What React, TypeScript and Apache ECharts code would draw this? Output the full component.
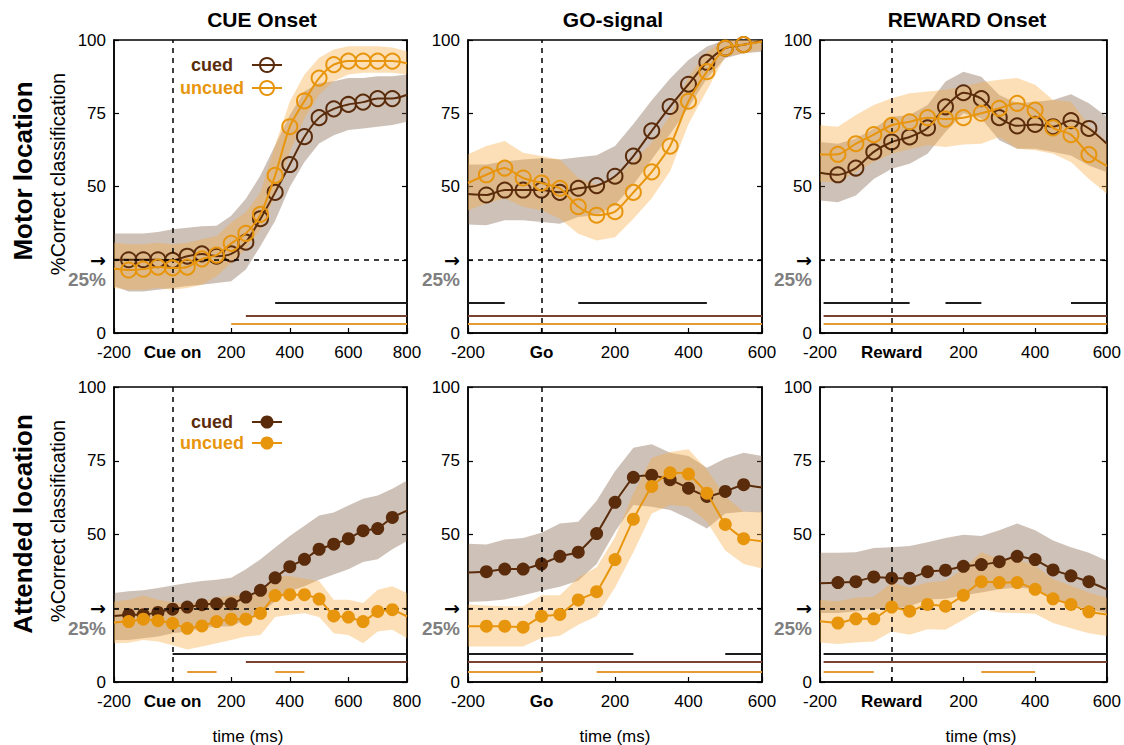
import React, { useEffect, useRef } from "react";
import * as echarts from "echarts";

// ---------- time grids (ms) ----------
const T_CUE = [-200, -150, -100, -50, 0, 50, 100, 150, 200, 250, 300, 350, 400, 450, 500, 550, 600, 650, 700, 750, 800];
const T_GO = [-200, -150, -100, -50, 0, 50, 100, 150, 200, 250, 300, 350, 400, 450, 500, 550, 600];
const T_REW = [-200, -150, -100, -50, 0, 50, 100, 150, 200, 250, 300, 350, 400, 450, 500, 550, 600];

// ---------- Motor location (top row) ----------
const mCueCued = [25, 25, 25, 25, 24.8, 26.2, 27, 26.2, 27, 31, 39, 48, 57.5, 67, 73.5, 76.5, 78, 78.8, 80, 80, 81.3];
const mCueCuedLo = [16, 14.2, 14.2, 14.8, 15.4, 16, 16.5, 17.1, 17.7, 21.7, 29.7, 38.3, 49.8, 58.4, 64.7, 67.5, 69.3, 69.8, 70.4, 71, 72.1];
const mCueCuedHi = [34, 34, 34, 34.5, 35.4, 35.9, 36.4, 36.6, 40, 45.8, 53.8, 64.1, 74.4, 82.5, 85.3, 85.9, 87, 87, 87.6, 87.6, 88.2];
const mCueUnc = [22, 21.5, 21.8, 22.5, 22.2, 22.5, 25.3, 26.6, 30.6, 34, 40.5, 53.8, 70.4, 79.2, 87, 91.6, 92.8, 92.8, 92.8, 92.8, 92];
const mCueUncLo = [15.4, 14.8, 14.8, 15.4, 14.8, 15.4, 16.5, 19.4, 24, 28.6, 35.4, 46.9, 61.8, 73.3, 81.3, 85.9, 88.2, 88.8, 88.8, 88.8, 88.2];
const mCueUncHi = [30.8, 30.3, 30.3, 30.8, 30.3, 30.8, 32, 33.1, 37.7, 41.2, 48, 64.1, 79, 88.2, 93.9, 96.8, 97.9, 97.9, 97.9, 97.4, 96.2];

const mGoCued = [47.4, 47.1, 48.8, 48.8, 48.8, 48, 49.4, 50.3, 53.5, 60.4, 69, 77.3, 84.9, 92.4, 97.2, 98.4, 99.6];
const mGoCuedLo = [37, 36.8, 38.5, 38.5, 37.9, 37.3, 39.6, 40.2, 43.7, 50.6, 59.2, 67.9, 77, 86.9, 93.8, 95.5, 96];
const mGoCuedHi = [57.5, 57.5, 58.6, 59.2, 59.6, 59.2, 60, 60.7, 63.8, 71.3, 79.4, 86.9, 93.2, 97.8, 100, 100, 100];
const mGoUnc = [51.2, 54, 56.3, 52.9, 51.2, 49.4, 43.1, 40.2, 41.4, 48, 55, 63.8, 79.1, 89.2, 97.2, 98.4, 99.5];
const mGoUncLo = [41.9, 44.2, 46, 43.1, 41.9, 39, 33.9, 31.6, 32.7, 39, 46, 55.2, 71.3, 82.8, 94.4, 95.5, 96.7];
const mGoUncHi = [61, 63.8, 65.5, 61.5, 60.4, 59.2, 52.9, 50.6, 52.9, 58.6, 65, 74.2, 87.4, 96, 100, 100, 100];

const mRewCued = [54.7, 54, 56.3, 61.8, 65.2, 66.9, 70, 77.2, 82, 80, 73.5, 70.7, 71.2, 70.4, 72.5, 69.8, 64.6];
const mRewCuedLo = [45.2, 44.6, 46.9, 52.6, 56.1, 57.8, 61.2, 68.6, 75, 73.2, 65.8, 62.9, 62.9, 61.8, 60.6, 57.2, 54.9];
const mRewCuedHi = [65.2, 64.6, 66.4, 69.8, 73.8, 74.4, 77.8, 85.8, 89.2, 87.5, 81.2, 78.4, 78.9, 79.5, 81.5, 78.4, 73.8];
const mRewUnc = [60.9, 61, 64.6, 67.7, 70.9, 72.1, 73.5, 73, 73.5, 75, 76.7, 78.4, 76.1, 70, 67.7, 60.9, 57];
const mRewUncLo = [51.5, 51.5, 54.9, 58.4, 61.2, 62.7, 64.1, 63.5, 64.3, 64.6, 66.9, 62.9, 62.4, 61.2, 58.4, 52.6, 47.5];
const mRewUncHi = [70.9, 70.4, 74.4, 77.8, 80.1, 81.8, 82.4, 83, 84.1, 85.6, 86.4, 87, 84.7, 79.5, 78.9, 70.9, 65.2];

// ---------- Attended location (bottom row) ----------
const aCueCued = [22.4, 22.8, 22.8, 23.6, 24.7, 25.4, 26.2, 26.5, 26.5, 28.8, 31.1, 35.3, 39.1, 41.6, 45, 46.7, 48.6, 51.3, 52, 55.8, 58.1];
const aCueCuedLo = [14.2, 14.2, 14.8, 15.4, 16.5, 17.1, 18.2, 18.8, 18.8, 21.1, 23.3, 27.3, 30.8, 32.5, 34.7, 36.4, 38.2, 40.7, 41.6, 45, 47.8];
const aCueCuedHi = [30.2, 30.8, 31.1, 31.9, 32.7, 33.6, 34.2, 34.7, 35.3, 38.2, 41.6, 45.6, 49.5, 53, 56.4, 57.5, 59.8, 62.1, 63.2, 65.5, 68.3];
const aCueUnc = [20.2, 20.5, 21.3, 20.8, 19.9, 18.2, 19, 20.5, 21.3, 21.3, 23.3, 29.3, 29.6, 29.6, 28.1, 22.4, 22, 20.5, 23.9, 24.5, 22.2];
const aCueUncLo = [13.1, 13.3, 14.2, 13.7, 12.5, 11, 12, 13.1, 14.2, 15.4, 15.9, 22, 22.8, 23.3, 22, 16.5, 15.9, 13.1, 17.1, 17.7, 14.8];
const aCueUncHi = [27.3, 27.9, 29.3, 27.9, 27, 26.5, 27.3, 28.5, 29.3, 29.3, 30.2, 35.9, 35.9, 35, 34.2, 27.9, 27.9, 26.8, 31.3, 32.5, 30.2];

const aGoCued = [37.1, 37.4, 38.3, 38.3, 40, 42.6, 44, 50.3, 60.9, 69.4, 70.1, 68.6, 65.7, 62.9, 64.6, 66.9, 65.9];
const aGoCuedLo = [27.1, 27.4, 28, 29.4, 30.9, 32.3, 34.3, 40, 50.9, 60, 59.4, 58.3, 55.4, 52, 57.1, 57.7, 57.5];
const aGoCuedHi = [46.9, 46.6, 48.3, 48.8, 50.6, 53.7, 54.3, 61.4, 71.4, 79.4, 80.6, 77.7, 76.6, 72.6, 75.8, 77.7, 76.6];
const aGoUnc = [18.9, 18.9, 18.9, 18.6, 22.3, 22.9, 27.8, 30.6, 41.5, 55.2, 66.3, 70.9, 70.5, 64, 53.4, 48.6, 47.7];
const aGoUncLo = [12, 12, 12, 12, 14.9, 15.7, 19.4, 22.3, 32, 44, 57.1, 60, 59.4, 54.3, 44.6, 40, 38.5];
const aGoUncHi = [26.3, 25.9, 25.7, 25.7, 29.4, 29.4, 35.4, 38.9, 49.1, 64, 76, 78, 78.9, 72, 62.9, 57.7, 57.7];

const aRewCued = [33.5, 33.7, 34, 35.6, 35.2, 35.2, 37.4, 37.9, 39.2, 39.8, 40.8, 42.6, 41.5, 38, 36, 34, 31.4];
const aRewCuedLo = [23.4, 23.4, 24, 24.8, 24.6, 25.7, 28, 28.2, 29.4, 30.3, 31.4, 32, 31.4, 28, 26.3, 24.6, 23.4];
const aRewCuedHi = [43.8, 43.8, 44, 45.4, 45.7, 46.1, 47.4, 48.8, 49.9, 49.5, 51.4, 53.7, 51.4, 48, 45.7, 43.8, 41.1];
const aRewUnc = [20.6, 20, 21.4, 21.4, 25.4, 24, 26.3, 25.7, 29.4, 34, 33.7, 33.7, 31.4, 28.2, 26.3, 23.8, 22.9];
const aRewUncLo = [13.4, 12.9, 13.4, 13.7, 17.1, 16, 17.9, 17.7, 21.1, 24.7, 23.6, 23.4, 23.1, 20, 18.2, 16.5, 15.6];
const aRewUncHi = [27.8, 27.4, 28.6, 28.9, 33.7, 32, 33.7, 34.3, 38.3, 44, 41.7, 41.7, 39.4, 34.9, 32.6, 30.3, 28.6];

// ---------- significance bars: [start, end] in ms ----------
const sigMCueAll = [[350, 800]];
const sigMCueCued = [[250, 800]];
const sigMCueUnc = [[200, 800]];
const sigMGoAll = [[-200, -100], [100, 450]];
const sigMGoCued = [[-200, 600]];
const sigMGoUnc = [[-200, 600]];
const sigMRewAll = [[-190, 50], [150, 250], [500, 600]];
const sigMRewCued = [[-190, 600]];
const sigMRewUnc = [[-190, 600]];
const sigACueAll = [[0, 800]];
const sigACueCued = [[250, 800]];
const sigACueUnc = [[50, 150], [350, 450]];
const sigAGoAll = [[-200, 250], [500, 600]];
const sigAGoCued = [[-200, 600]];
const sigAGoUnc = [[-200, 0], [150, 600]];
const sigARewAll = [[-190, 600]];
const sigARewCued = [[-190, 600]];
const sigARewUnc = [[-190, -50], [250, 400]];
const SIG_LEVELS = [[10.4, 6, 3.3], [9.7, 6.7, 3.6]];

// ---------- labels ----------
const COLUMN_TITLES = ["CUE Onset", "GO-signal", "REWARD Onset"];
const EVENT_LABELS = ["Cue on", "Go", "Reward"];
const ROW_TITLES = ["Motor location", "Attended location"];
const Y_NAME = "%Correct classification";
const X_NAME = "time (ms)";
const LEGEND_NAMES = ["cued", "uncued"];
const X_MIN = -200;
const X_MAX = [800, 600, 600];
const CHANCE = 25;

// ---------- styling ----------
const FONT = "'Liberation Sans', Arial, Helvetica, sans-serif";
const DARK = "#5a2c0b";
const ORANGE = "#e8950e";
const BAND_DARK = "rgba(120, 82, 58, 0.36)";
const BAND_ORANGE = "rgba(248, 172, 66, 0.38)";
const SIG_COLORS = ["#1c1c1c", "#7a4232", "#e69a33"];
const GRID_LEFT = [114, 468, 820];
const GRID_W = [293, 294, 293];
const GRID_TOP = [40, 387];
const GRID_H = [293, 295];

const panels = [
  { row: 0, col: 0, t: T_CUE, c: mCueCued, cLo: mCueCuedLo, cHi: mCueCuedHi, u: mCueUnc, uLo: mCueUncLo, uHi: mCueUncHi, sig: [sigMCueAll, sigMCueCued, sigMCueUnc] },
  { row: 0, col: 1, t: T_GO, c: mGoCued, cLo: mGoCuedLo, cHi: mGoCuedHi, u: mGoUnc, uLo: mGoUncLo, uHi: mGoUncHi, sig: [sigMGoAll, sigMGoCued, sigMGoUnc] },
  { row: 0, col: 2, t: T_REW, c: mRewCued, cLo: mRewCuedLo, cHi: mRewCuedHi, u: mRewUnc, uLo: mRewUncLo, uHi: mRewUncHi, sig: [sigMRewAll, sigMRewCued, sigMRewUnc] },
  { row: 1, col: 0, t: T_CUE, c: aCueCued, cLo: aCueCuedLo, cHi: aCueCuedHi, u: aCueUnc, uLo: aCueUncLo, uHi: aCueUncHi, sig: [sigACueAll, sigACueCued, sigACueUnc] },
  { row: 1, col: 1, t: T_GO, c: aGoCued, cLo: aGoCuedLo, cHi: aGoCuedHi, u: aGoUnc, uLo: aGoUncLo, uHi: aGoUncHi, sig: [sigAGoAll, sigAGoCued, sigAGoUnc] },
  { row: 1, col: 2, t: T_REW, c: aRewCued, cLo: aRewCuedLo, cHi: aRewCuedHi, u: aRewUnc, uLo: aRewUncLo, uHi: aRewUncHi, sig: [sigARewAll, sigARewCued, sigARewUnc] },
];

function bandSeries(i: number, yIdx: number, t: number[], lo: number[], hi: number[], color: string, z: number) {
  return {
    type: "custom", xAxisIndex: i, yAxisIndex: yIdx, silent: true, z,
    encode: { x: 0, y: [1, 2] },
    data: t.map((x, k) => [x, lo[k], hi[k]]),
    renderItem: (params: any, api: any) => {
      if (params.dataIndex !== 0) return null;
      const upper = t.map((x, k) => api.coord([x, hi[k]]));
      const lower = t.map((x, k) => api.coord([x, lo[k]])).reverse();
      return { type: "polygon", shape: { points: upper.concat(lower) }, style: { fill: color, stroke: "none" } };
    },
  };
}

function buildOption() {
  const grid: any[] = [];
  const xAxis: any[] = [];
  const yAxis: any[] = [];
  const series: any[] = [];

  panels.forEach((p, i) => {
    grid.push({
      left: GRID_LEFT[p.col], top: GRID_TOP[p.row], width: GRID_W[p.col], height: GRID_H[p.row],
      show: true, borderColor: "#000", borderWidth: 1.5, backgroundColor: "transparent",
    });
    xAxis.push({
      type: "value", gridIndex: i, min: X_MIN, max: X_MAX[p.col], interval: 200,
      axisLine: { show: true, onZero: false, lineStyle: { color: "#000", width: 1.5 } },
      axisTick: { show: true, inside: true, length: 5, lineStyle: { color: "#000", width: 1.2 } },
      splitLine: { show: false },
      axisLabel: {
        color: "#000", fontSize: 17, fontFamily: FONT, margin: 11, showMaxLabel: true, showMinLabel: true,
        formatter: (v: number) => (v === 0 ? `{ev|${EVENT_LABELS[p.col]}}` : String(v)),
        rich: { ev: { fontWeight: "bold", fontSize: 17, fontFamily: FONT, color: "#000" } },
      },
    });
    yAxis.push({
      type: "value", gridIndex: i, min: 0, max: 100, interval: 25,
      axisLine: { show: true, onZero: false, lineStyle: { color: "#000", width: 1.5 } },
      axisTick: { show: true, inside: true, length: 5, lineStyle: { color: "#000", width: 1.2 } },
      splitLine: { show: false },
      axisLabel: {
        color: "#000", fontSize: 17, fontFamily: FONT, margin: 8,
        formatter: (v: number) => (v === CHANCE ? "{e| }\n{a|\u2192}\n{p|25%}" : String(v)),
        rich: {
          e: { lineHeight: 20, fontSize: 10 },
          a: { lineHeight: 20, fontSize: 19, fontWeight: "bold", color: "#000", fontFamily: "'DejaVu Sans', sans-serif" },
          p: { lineHeight: 20, fontSize: 19, fontWeight: "bold", color: "#7f7f7f", fontFamily: FONT },
        },
      },
    });
    yAxis.push({
      type: "value", gridIndex: i, min: 0, max: 100, interval: 25, position: "right",
      axisLine: { show: true, onZero: false, lineStyle: { color: "#000", width: 1.5 } },
      axisTick: { show: true, inside: true, length: 5, lineStyle: { color: "#000", width: 1.2 } },
      axisLabel: { show: false }, splitLine: { show: false },
    });
    const yIdx = i * 2;
    series.push(bandSeries(i, yIdx, p.t, p.cLo, p.cHi, BAND_DARK, 1));
    series.push(bandSeries(i, yIdx, p.t, p.uLo, p.uHi, BAND_ORANGE, 2));

    const lvls = SIG_LEVELS[p.row];
    const sigLines: any[] = [];
    p.sig.forEach((segs, k) => {
      segs.forEach(([a, b]) => {
        sigLines.push([
          { coord: [a, lvls[k]], lineStyle: { type: "solid", color: SIG_COLORS[k], width: 2 } },
          { coord: [b, lvls[k]] },
        ]);
      });
    });

    series.push({
      type: "line", xAxisIndex: i, yAxisIndex: yIdx, symbol: "none", silent: true, z: 3, data: [],
      markLine: {
        silent: true, symbol: ["none", "none"], label: { show: false }, animation: false,
        lineStyle: { type: [5, 5], color: "#000", width: 1.5 },
        data: [{ xAxis: 0 }, { yAxis: CHANCE }, ...sigLines],
      },
    });

    const meanSeries = (vals: number[], color: string, name: string, z: number) => {
      const open = p.row === 0;
      series.push({
        type: "line", name, xAxisIndex: i, yAxisIndex: yIdx, z,
        smooth: open ? 0.25 : 0.1,
        symbol: "circle", symbolSize: open ? 15 : 13,
        lineStyle: { color, width: 2 },
        itemStyle: open
          ? { color: "rgba(0,0,0,0)", borderColor: color, borderWidth: 2 }
          : { color, borderColor: color, borderWidth: 0 },
        data: p.t.map((x, k) => (k === 0 || k === p.t.length - 1 ? { value: [x, vals[k]], symbol: "none" } : [x, vals[k]])),
      });
    };
    meanSeries(p.c, DARK, LEGEND_NAMES[0], 4);
    meanSeries(p.u, ORANGE, LEGEND_NAMES[1], 5);
  });

  const graphic: any[] = [];
  const titleX = [262, 613, 967];
  COLUMN_TITLES.forEach((t, c) => {
    graphic.push({
      type: "text", x: titleX[c], y: 19,
      style: { text: t, fontSize: 21, fontWeight: "bold", fontFamily: FONT, fill: "#000", align: "center", verticalAlign: "middle", textAlign: "center", textVerticalAlign: "middle" },
    });
  });
  const rowY = [171, 524];
  ROW_TITLES.forEach((t, r) => {
    graphic.push({
      type: "text", x: 23, y: rowY[r], rotation: Math.PI / 2,
      style: { text: t, fontSize: 26, fontWeight: "bold", fontFamily: FONT, fill: "#000", align: "center", verticalAlign: "middle", textAlign: "center", textVerticalAlign: "middle" },
    });
  });
  const yNameY = [174, 521];
  yNameY.forEach((y) => {
    graphic.push({
      type: "text", x: 58, y, rotation: Math.PI / 2,
      style: { text: Y_NAME, fontSize: 20, fontFamily: FONT, fill: "#000", align: "center", verticalAlign: "middle", textAlign: "center", textVerticalAlign: "middle" },
    });
  });
  const timeX = [248, 615, 981];
  timeX.forEach((x) => {
    graphic.push({
      type: "text", x, y: 736,
      style: { text: X_NAME, fontSize: 17, fontFamily: FONT, fill: "#000", align: "center", verticalAlign: "middle", textAlign: "center", textVerticalAlign: "middle" },
    });
  });
  // in-plot keys (top-left open circles, bottom-left filled circles)
  const legendRows = [
    { y: [65, 88], filled: false },
    { y: [422, 443], filled: true },
  ];
  const legendTextX = [233, 244];
  legendRows.forEach((lr) => {
    [DARK, ORANGE].forEach((col, k) => {
      const y = lr.y[k];
      graphic.push({
        type: "text", x: legendTextX[k], y, z: 100,
        style: { text: LEGEND_NAMES[k], fontSize: 18, fontWeight: "bold", fontFamily: FONT, fill: col, align: "right", verticalAlign: "middle", textAlign: "right", textVerticalAlign: "middle" },
      });
      graphic.push({ type: "line", z: 100, shape: { x1: 252, y1: y, x2: 282, y2: y }, style: { stroke: col, lineWidth: 2 } });
      graphic.push({
        type: "circle", z: 100, shape: { cx: 267, cy: y, r: lr.filled ? 6.5 : 7 },
        style: lr.filled ? { fill: col, stroke: col, lineWidth: 0 } : { fill: "rgba(0,0,0,0)", stroke: col, lineWidth: 2 },
      });
    });
  });
  return { animation: false, backgroundColor: "#fff", grid, xAxis, yAxis, series, graphic };
}

export default function App() {
  const ref = useRef<HTMLDivElement>(null);
  useEffect(() => {
    document.body.style.margin = "0";
    if (!ref.current) return;
    const chart = echarts.init(ref.current, undefined, { renderer: "svg" });
    chart.setOption(buildOption() as any);
    return () => chart.dispose();
  }, []);
  return <div ref={ref} style={{ width: 1124, height: 745 }} />;
}
